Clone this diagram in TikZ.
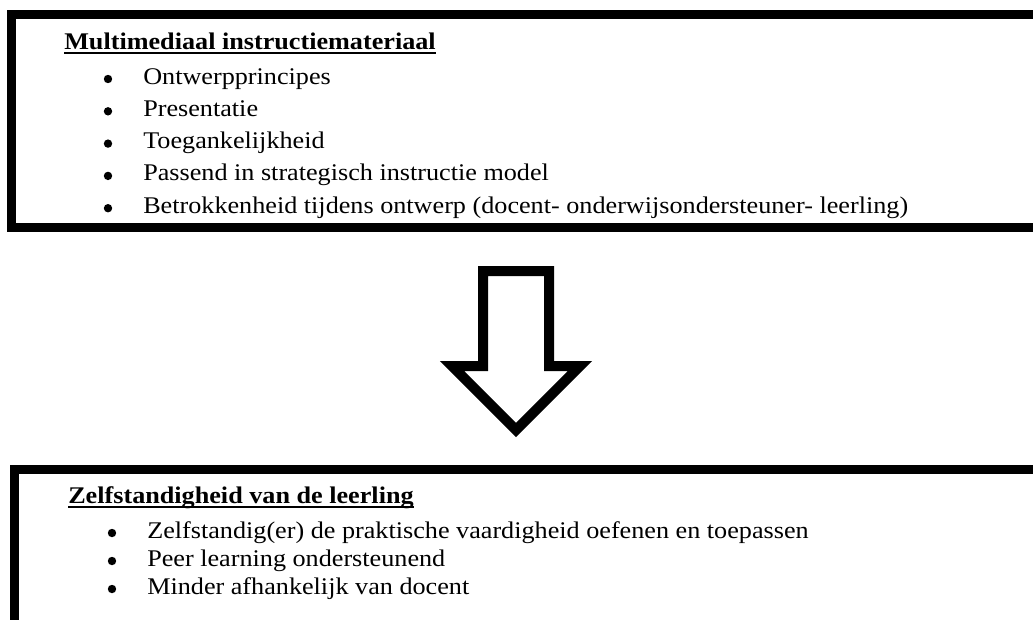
\documentclass[tikz,border=0pt]{standalone}
\usepackage{fontspec}
\setmainfont{Liberation Serif}[FakeStretch=1.095]
\usepackage{tikz}
\usetikzlibrary{positioning}
\tikzset{
  boxline/.style={ draw, line width=2.25mm, line join=miter }
}
\tikzset{
  boxtitle/.style={ anchor=base west, inner sep=0pt, font=\fontsize{17}{20}\selectfont\bfseries }
}
\tikzset{
  boxitem/.style={ anchor=base west, inner sep=0pt, font=\fontsize{17}{20}\selectfont }
}
\tikzset{
  bulletdot/.style={ circle, fill=black, inner sep=0pt, minimum size=2.1mm }
}
\tikzset{
  downarrow/.style={ draw, line width=2.5mm, line join=miter, fill=white }
}

\begin{document}
\begin{tikzpicture}[x=0.025cm, y=-0.025cm]
  \clip (0, 0) rectangle (1033, 619);
  \fill[white] (0, 0) rectangle (1033, 619);
  % top box
  \draw[boxline] (1060, 14) -- (11.5, 14) -- (11.5, 227.5) -- (1060, 227.5);
  \node[boxtitle] (top) at (64, 49) {Multimediaal instructiemateriaal};
  \draw[line width=0.5mm] ([yshift=-1mm]top.base west) -- ([yshift=-1mm]top.base east);
  \foreach \txt [count=\i] in {Ontwerpprincipes, Presentatie, Toegankelijkheid,
      Passend in strategisch instructie model,
      {Betrokkenheid tijdens ontwerp (docent- onderwijsondersteuner- leerling)}} {
    \node[bulletdot] (topdot\i) at (108, 79+32.3*\i-32.3) {};
    \node[boxitem] (topitem\i) at (143, 84+32.3*\i-32.3) {\txt};
  }
  % arrow
  \draw[downarrow] (483, 271) -- (549, 271) -- (549, 366) -- (580, 366)
    -- (516, 430) -- (452, 366) -- (483, 366) -- cycle;
  % bottom box
  \draw[boxline] (1060, 469) -- (14.5, 469) -- (14.5, 640);
  \node[boxtitle] (bottom) at (68, 503) {Zelfstandigheid van de leerling};
  \draw[line width=0.5mm] ([yshift=-1mm]bottom.base west) -- ([yshift=-1mm]bottom.base east);
  \foreach \txt [count=\i] in {Zelfstandig(er) de praktische vaardigheid oefenen en toepassen,
      Peer learning ondersteunend, Minder afhankelijk van docent} {
    \node[bulletdot] (botdot\i) at (112, 533+28*\i-28) {};
    \node[boxitem] (botitem\i) at (147, 538+28*\i-28) {\txt};
  }
\end{tikzpicture}
\end{document}
